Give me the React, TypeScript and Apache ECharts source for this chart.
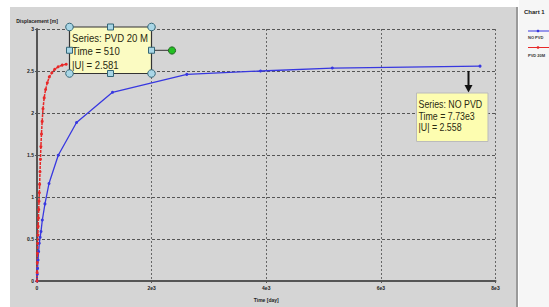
import React, { useEffect, useRef } from "react";
import * as echarts from "echarts";

const xTicks = [0, 2000, 4000, 6000, 8000];
const yTicks = [0, 0.5, 1, 1.5, 2, 2.5, 3];

const noPvdTime = [0, 5, 10, 18, 28, 40, 55, 70, 93, 139, 209, 371, 690, 1317, 2614, 3900, 5153, 7730];
const noPvdDisp = [0, 0.08, 0.15, 0.25, 0.35, 0.45, 0.52, 0.59, 0.726, 0.918, 1.16, 1.497, 1.887, 2.246, 2.46, 2.5, 2.535, 2.558];

const pvdTime = [0, 2, 5, 8, 12, 16, 20, 25, 30, 35, 40, 46, 52, 60, 68, 78, 90, 105, 125, 150, 180, 215, 260, 310, 370, 440, 510];
const pvdDisp = [0, 0.1, 0.22, 0.33, 0.45, 0.55, 0.65, 0.75, 0.85, 0.95, 1.05, 1.15, 1.3, 1.45, 1.6, 1.75, 1.9, 2.05, 2.18, 2.28, 2.36, 2.43, 2.48, 2.52, 2.55, 2.57, 2.581];

const seriesNames = ["NO PVD", "PVD 20 M"];
const tip1 = ["Series: PVD 20 M", "Time = 510", "|U| = 2.581"];
const tip2 = ["Series: NO PVD", "Time = 7.73e3", "|U| = 2.558"];

export default function App() {
  const ref = useRef<HTMLDivElement>(null);
  useEffect(() => {
    const chart = echarts.init(ref.current!, undefined, { renderer: "svg" });
    const tipFont = { fontFamily: "Liberation Sans", fill: "#2a2a10" };
    const handleStyle = { fill: "#a9d6e6", stroke: "#336677", lineWidth: 1 };
    const mkText = (lines: string[], x: number, y: number, gap: number, size: number, sx: number) =>
      lines.map((t, i) => ({
        type: "text", z: 101, x, y: y + i * gap, scaleX: sx,
        style: { ...tipFont, fontSize: size, text: t, textVerticalAlign: "middle" },
      }));
    const b1 = { x0: 69.5, y0: 27, x1: 151.5, y1: 73.5 };
    const corners = [[b1.x0, b1.y0], [b1.x1, b1.y0], [b1.x0, b1.y1], [b1.x1, b1.y1]];
    const mids = [[(b1.x0 + b1.x1) / 2, b1.y0], [(b1.x0 + b1.x1) / 2, b1.y1], [b1.x0, (b1.y0 + b1.y1) / 2], [b1.x1, (b1.y0 + b1.y1) / 2]];
    chart.setOption({
      animation: false,
      backgroundColor: "#ffffff",
      grid: { left: 37, right: 53.5, top: 29, bottom: 21.5 },
      xAxis: {
        type: "value", min: 0, max: 8000, interval: 2000,
        name: "Time [day]", nameLocation: "middle", nameGap: 16,
        nameTextStyle: { fontSize: 5, fontWeight: "bold", color: "#222", fontFamily: "Liberation Sans" },
        axisLine: { show: true, lineStyle: { color: "#555", width: 2 } },
        axisTick: { show: true, length: 2, lineStyle: { color: "#555" } },
        axisLabel: {
          fontSize: 5, fontWeight: "bold", color: "#222", margin: 4, fontFamily: "Liberation Sans",
          formatter: (v: number) => (v === 0 ? "0" : v / 1000 + "e3"),
        },
        splitLine: { show: true, lineStyle: { color: "#666", type: [2, 2], width: 1 } },
      },
      yAxis: {
        type: "value", min: 0, max: 3, interval: 0.5,
        name: "Displacement [m]", nameLocation: "end", nameGap: 6,
        nameTextStyle: { fontSize: 5, fontWeight: "bold", color: "#222", fontFamily: "Liberation Sans", align: "center" },
        axisLine: { show: true, lineStyle: { color: "#555", width: 2 } },
        axisTick: { show: true, length: 2, lineStyle: { color: "#555" } },
        axisLabel: { fontSize: 5, fontWeight: "bold", color: "#222", margin: 3, fontFamily: "Liberation Sans" },
        splitLine: { show: true, lineStyle: { color: "#555", type: [3, 2], width: 1 } },
      },
      series: [
        {
          name: seriesNames[0], type: "line", data: noPvdTime.map((t, i) => [t, noPvdDisp[i]]),
          symbol: "circle", symbolSize: 3, color: "#3838e0", lineStyle: { width: 1.3, color: "#3838e0" },
        },
        {
          name: seriesNames[1], type: "line", data: pvdTime.map((t, i) => [t, pvdDisp[i]]),
          symbol: "circle", symbolSize: 3, color: "#e82828", lineStyle: { width: 1.5, color: "#e82828", type: [3, 1] },
        },
      ],
      graphic: {
        elements: [
          { type: "rect", z: -10, silent: true, shape: { x: 10, y: 7, width: 507, height: 300 }, style: { fill: "#d5d5d5" } },
          { type: "rect", z: -10, silent: true, shape: { x: 519, y: 0, width: 30, height: 307 }, style: { fill: "#f6f6f6" } },
          { type: "rect", z: -9, silent: true, shape: { x: 516, y: 7, width: 2, height: 300 }, style: { fill: "#9a9a9a" } },
          { type: "text", z: 10, x: 524, y: 12, style: { text: "Chart 1", fontSize: 6, fontWeight: "bold", fill: "#222", fontFamily: "Liberation Sans", textVerticalAlign: "middle" } },
          { type: "line", z: 10, shape: { x1: 528, y1: 31, x2: 549, y2: 31 }, style: { stroke: "#3838e0", lineWidth: 1 } },
          { type: "circle", z: 10, shape: { cx: 538, cy: 31, r: 1.3 }, style: { fill: "#3838e0" } },
          { type: "text", z: 10, x: 528, y: 37.5, style: { text: seriesNames[0], fontSize: 4, fontWeight: "bold", fill: "#333", fontFamily: "Liberation Sans", textVerticalAlign: "middle" } },
          { type: "line", z: 10, shape: { x1: 528, y1: 47.5, x2: 549, y2: 47.5 }, style: { stroke: "#e82828", lineWidth: 1 } },
          { type: "circle", z: 10, shape: { cx: 538, cy: 47.5, r: 1.3 }, style: { fill: "#e82828" } },
          { type: "text", z: 10, x: 528, y: 55, style: { text: "PVD 20M", fontSize: 4, fontWeight: "bold", fill: "#333", fontFamily: "Liberation Sans", textVerticalAlign: "middle" } },
          // tooltip box 1
          { type: "rect", z: 100, shape: { x: b1.x0, y: b1.y0, width: b1.x1 - b1.x0, height: b1.y1 - b1.y0 }, style: { fill: "#fbfbc2", stroke: "#333", lineWidth: 1.2 } },
          ...mkText(tip1, 72, 38.5, 13.2, 11, 0.87),
          { type: "line", z: 100, shape: { x1: b1.x1, y1: 50.3, x2: 171.5, y2: 50.3 }, style: { stroke: "#333", lineWidth: 1 } },
          { type: "circle", z: 102, shape: { cx: 172, cy: 50.5, r: 3.6 }, style: { fill: "#22c022", stroke: "#226622", lineWidth: 1 } },
          ...corners.map(([cx, cy]) => ({ type: "circle", z: 102, shape: { cx, cy, r: 3.8 }, style: handleStyle })),
          ...mids.map(([cx, cy]) => ({ type: "rect", z: 102, shape: { x: cx - 3, y: cy - 3, width: 6, height: 6 }, style: handleStyle })),
          // tooltip box 2
          { type: "line", z: 100, shape: { x1: 468.5, y1: 71, x2: 468.5, y2: 86 }, style: { stroke: "#111", lineWidth: 2 } },
          { type: "polygon", z: 100, shape: { points: [[464.5, 85], [472.5, 85], [468.5, 92.5]] }, style: { fill: "#111" } },
          { type: "rect", z: 100, shape: { x: 416.5, y: 93, width: 71.5, height: 48.5 }, style: { fill: "#fdfdb0", stroke: "#bbb", lineWidth: 1 } },
          ...mkText(tip2, 418.5, 104.5, 11.5, 10.5, 0.84),
        ],
      },
    });
    return () => chart.dispose();
  }, []);
  return <div ref={ref} style={{ position: "fixed", left: 0, top: 0, width: 549, height: 307 }} />;
}
